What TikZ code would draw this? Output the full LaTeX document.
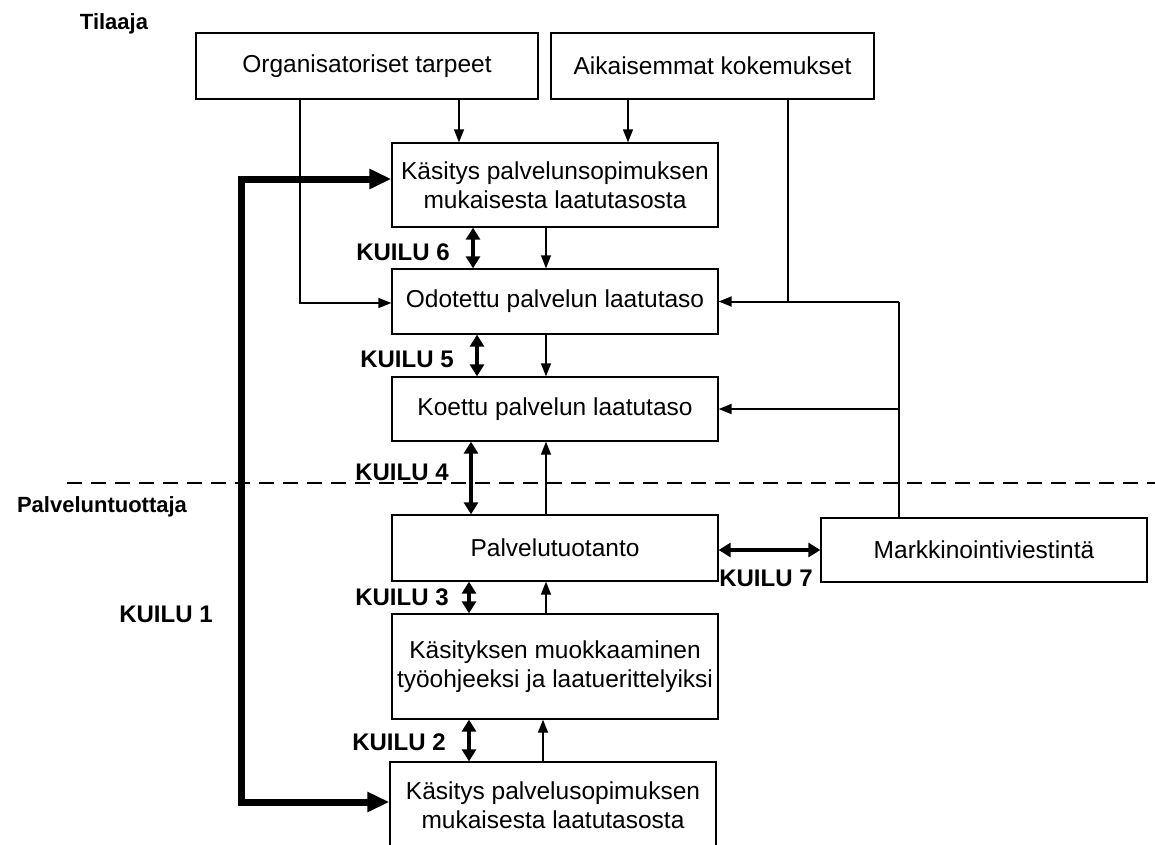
\documentclass[tikz,border=0pt]{standalone}
\usepackage{fontspec}
\setmainfont{Liberation Sans}
\usetikzlibrary{arrows.meta}
\begin{document}
\begin{tikzpicture}[x=1pt,y=-1pt,>={Triangle[length=13pt,width=10pt]},
    box/.style={draw,line width=1.3pt,minimum width=326pt,minimum height=#1,inner sep=0pt,align=center,font=\fontsize{24.5}{29}\selectfont},
    kuilutext/.style={font=\bfseries\fontsize{24}{28}\selectfont},
    side/.style={font=\bfseries\fontsize{22}{26}\selectfont},
    link/.style={line width=1.3pt},
    feed/.style={line width=2pt},
    kuilu/.style={line width=4pt,{Triangle[length=12pt,width=14pt]}-{Triangle[length=12pt,width=14pt]}},
    fat/.style={line width=7pt,{Triangle[length=22pt,width=19pt]}-{Triangle[length=22pt,width=19pt]}}]
  \useasboundingbox (0,0) rectangle (1155,844);
  \node[side] (tilaaja) at (114,24) {Tilaaja};
  \node[side] (tuottaja) at (102,507) {Palveluntuottaja};
  \draw[link,dash pattern=on 15pt off 9pt] (67,483) -- (1155,483);
  \node[box=66pt,minimum width=342pt] (org) at (367,66) {Organisatoriset tarpeet};
  \node[box=66pt,minimum width=323pt] (aik) at (712.5,66) {Aikaisemmat kokemukset};
  \node[box=84pt] (kasitys) at (555,185) {Käsitys palvelunsopimuksen\\mukaisesta laatutasosta};
  \node[box=65pt] (odotettu) at (555,301.5) {Odotettu palvelun laatutaso};
  \node[box=64pt] (koettu) at (555,409) {Koettu palvelun laatutaso};
  \node[box=66pt] (tuotanto) at (555,548) {Palvelutuotanto};
  \node[box=64pt] (markk) at (984,550) {Markkinointiviestintä};
  \node[box=105pt] (muokk) at (555,666.5) {Käsityksen muokkaaminen\\työohjeeksi ja laatuerittelyiksi};
  \node[box=86pt] (sopimus) at (553,805) {Käsitys palvelusopimuksen\\mukaisesta laatutasosta};
  \node[kuilutext] (k6) at (403,252) {KUILU 6};
  \node[kuilutext] (k5) at (407,359) {KUILU 5};
  \node[kuilutext] (k4) at (402,472) {KUILU 4};
  \node[kuilutext] (k3) at (402,597) {KUILU 3};
  \node[kuilutext] (k2) at (399,742) {KUILU 2};
  \node[kuilutext] (k1) at (166,614) {KUILU 1};
  \node[kuilutext] (k7) at (766,578) {KUILU 7};
  \draw[link,->] ([xshift=92pt]org.south) -- ([xshift=92pt]org.south |- kasitys.north);
  \draw[link,->] ([xshift=-84.5pt]aik.south) -- ([xshift=-84.5pt]aik.south |- kasitys.north);
  \draw[link,->] ([xshift=-9pt]kasitys.south) -- ([xshift=-9pt]odotettu.north);
  \draw[link,->] ([xshift=-9pt]odotettu.south) -- ([xshift=-9pt]koettu.north);
  \draw[link,->] ([xshift=-9pt]tuotanto.north) -- ([xshift=-9pt]koettu.south);
  \draw[link,->] ([xshift=-9pt]muokk.north) -- ([xshift=-9pt]tuotanto.south);
  \draw[link,->] ([xshift=-10pt]sopimus.north) -- ([xshift=-10pt]sopimus.north |- muokk.south);
  \draw[link,->] ([xshift=-67pt]org.south) |- ([yshift=-1.5pt]odotettu.west);
  \draw[link] ([xshift=75.5pt]aik.south) -- ([xshift=75.5pt]aik.south |- odotettu.east);
  \coordinate (jo) at ([xshift=-85pt]markk.north |- odotettu.east);
  \draw[link] ([xshift=-85pt]markk.north) -- (jo);
  \draw[feed,->] (jo) -- (odotettu.east);
  \draw[feed,->] ([xshift=-85pt]markk.north |- koettu.east) -- (koettu.east);
  \draw[kuilu] ([xshift=-82pt]kasitys.south) -- ([xshift=-82pt]odotettu.north);
  \draw[kuilu] ([xshift=-78pt]odotettu.south) -- ([xshift=-78pt]koettu.north);
  \draw[kuilu] ([xshift=-84pt]koettu.south) -- ([xshift=-84pt]tuotanto.north);
  \draw[kuilu] ([xshift=-86pt]tuotanto.south) -- ([xshift=-86pt]muokk.north);
  \draw[kuilu] ([xshift=-86pt]muokk.south) -- ([xshift=-86pt]muokk.south |- sopimus.north);
  \draw[kuilu] (tuotanto.east |- markk.west) -- (markk.west);
  \coordinate (r1) at (241,179);
  \coordinate (r2) at (241,802);
  \draw[fat] (kasitys.west |- r1) -- (r1) -- (r2) -- (sopimus.west |- r2);
\end{tikzpicture}
\end{document}
